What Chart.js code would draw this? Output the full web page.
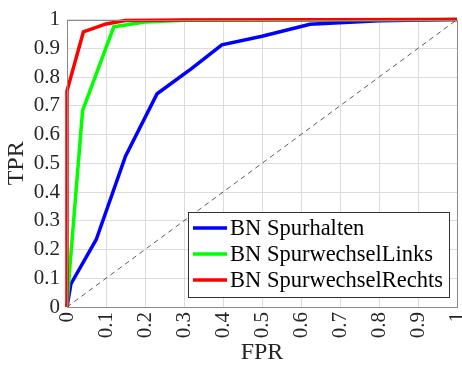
<!DOCTYPE html>
<html>
<head>
<meta charset="utf-8">
<title>ROC</title>
<script src="https://cdn.jsdelivr.net/npm/chart.js@4"></script>
<style>
  html, body { margin: 0; padding: 0; background: #fff; }
  #wrap { width: 462px; height: 368px; }
</style>
</head>
<body>
<div id="wrap"><canvas id="rocCanvas" width="462" height="368"></canvas></div>
<script>
// ROC curves
var seriesNames = ['BN Spurhalten', 'BN SpurwechselLinks', 'BN SpurwechselRechts'];
var seriesColors = ['#0000ff', '#00ff00', '#ff0000'];

var fprHalten = [0, 0.01, 0.075, 0.15, 0.231, 0.32, 0.397, 0.5, 0.623, 0.8, 1];
var tprHalten = [0, 0.08, 0.235, 0.525, 0.742, 0.83, 0.912, 0.942, 0.984, 0.996, 1];

var fprLinks = [0, 0.005, 0.04, 0.12, 0.2, 0.3, 1];
var tprLinks = [0, 0.1, 0.683, 0.975, 0.992, 0.998, 1];

var fprRechts = [0, 0, 0.042, 0.1, 0.15, 0.3, 1];
var tprRechts = [0, 0.752, 0.957, 0.985, 0.997, 0.999, 1];

var diagX = [0, 1];
var diagY = [0, 1];

var tickValues = [0, 0.1, 0.2, 0.3, 0.4, 0.5, 0.6, 0.7, 0.8, 0.9, 1];

var serif = "'Liberation Serif', 'DejaVu Serif', serif";

function toPoints(xs, ys) {
    var pts = [];
    for (var i = 0; i < xs.length; i++) {
        pts.push({ x: xs[i], y: ys[i] });
    }
    return pts;
}

function fmtTick(v) {
    return String(+(+v).toFixed(1));
}

var boxPlugin = {
    id: 'boxPlugin',
    afterDatasetsDraw: function (chart) {
        var ctx = chart.ctx;
        var a = chart.chartArea;
        ctx.save();
        ctx.strokeStyle = '#8a8a8a';
        ctx.lineWidth = 1;
        ctx.strokeRect(Math.round(a.left) + 0.5, Math.round(a.top) + 0.5,
            Math.round(a.right - a.left), Math.round(a.bottom - a.top));
        ctx.restore();
    },
    afterDraw: function (chart) {
        // legend in the lower right
        var ctx = chart.ctx;
        var bx = 188, by = 212, bw = 261, bh = 85;
        ctx.save();
        ctx.fillStyle = '#fff';
        ctx.fillRect(bx, by, bw, bh);
        ctx.strokeStyle = '#333';
        ctx.lineWidth = 1;
        ctx.strokeRect(bx + 0.5, by + 0.5, bw, bh);
        var rows = [228, 254, 280];
        ctx.font = "22.5px " + serif;
        ctx.textBaseline = 'middle';
        ctx.textAlign = 'left';
        for (var i = 0; i < seriesNames.length; i++) {
            ctx.strokeStyle = seriesColors[i];
            ctx.lineWidth = 3.5;
            ctx.beginPath();
            ctx.moveTo(193, rows[i]);
            ctx.lineTo(227, rows[i]);
            ctx.stroke();
            ctx.fillStyle = '#000';
            ctx.fillText(seriesNames[i], 230, rows[i] + 1);
        }
        ctx.restore();
    }
};

function lineSet(label, xs, ys, color, order) {
    return {
        label: label,
        data: toPoints(xs, ys),
        borderColor: color,
        backgroundColor: color,
        borderWidth: 3.5,
        pointRadius: 0,
        tension: 0,
        fill: false,
        clip: false,
        order: order
    };
}

var chartdata = {
    datasets: [
        lineSet(seriesNames[0], fprHalten, tprHalten, seriesColors[0], 3),
        lineSet(seriesNames[1], fprLinks, tprLinks, seriesColors[1], 2),
        lineSet(seriesNames[2], fprRechts, tprRechts, seriesColors[2], 1),
        {
            label: 'diag',
            data: toPoints(diagX, diagY),
            borderColor: '#333',
            borderWidth: 0.8,
            borderDash: [5, 4],
            pointRadius: 0,
            fill: false,
            order: 0
        }
    ]
};

var rocChart = new Chart(document.getElementById('rocCanvas'), {
    type: 'line',
    data: chartdata,
    plugins: [boxPlugin],
    options: {
        responsive: false,
        animation: false,
        events: [],
        layout: { padding: { left: 0, right: 5, top: 16, bottom: 0 } },
        plugins: {
            legend: { display: false },
            tooltip: { enabled: false }
        },
        scales: {
            x: {
                type: 'linear',
                min: 0,
                max: 1,
                afterBuildTicks: function (scale) {
                    scale.ticks = tickValues.map(function (v) { return { value: v }; });
                },
                afterFit: function (scale) {
                    scale.height = 61;
                    scale.paddingRight = 0;
                    scale.paddingLeft = 0;
                },
                grid: { color: '#dcdcdc', drawTicks: false },
                border: { display: false },
                ticks: {
                    minRotation: 90,
                    maxRotation: 90,
                    padding: 5,
                    color: '#262626',
                    font: { family: serif, size: 21 },
                    callback: fmtTick
                },
                title: {
                    display: true,
                    text: 'FPR',
                    color: '#262626',
                    padding: { top: 0, bottom: 1 },
                    font: { family: serif, size: 24 }
                }
            },
            y: {
                type: 'linear',
                min: 0,
                max: 1,
                afterBuildTicks: function (scale) {
                    scale.ticks = tickValues.map(function (v) { return { value: v }; });
                },
                afterFit: function (scale) {
                    scale.width = 67;
                },
                grid: { color: '#dcdcdc', drawTicks: false },
                border: { display: false },
                ticks: {
                    padding: 7,
                    color: '#262626',
                    font: { family: serif, size: 21 },
                    callback: fmtTick
                },
                title: {
                    display: true,
                    text: 'TPR',
                    color: '#262626',
                    padding: { top: 2, bottom: 0 },
                    font: { family: serif, size: 24 }
                }
            }
        }
    }
});
</script>
</body>
</html>
